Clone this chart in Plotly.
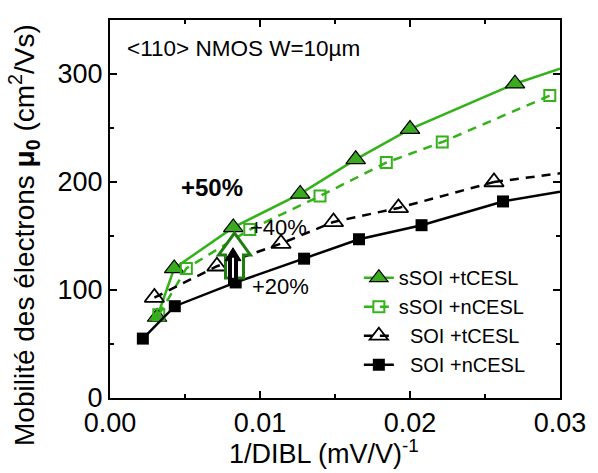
import plotly.graph_objects as go

# ---- data ----
x_ssoi_t = [0.00314, 0.00428, 0.00822, 0.01268, 0.01638, 0.0200, 0.0270]
y_ssoi_t = [75, 120, 158, 189, 221, 249, 291]
ext_ssoi_t_x = [0.0270, 0.0300]
ext_ssoi_t_y = [291, 305]

x_ssoi_n = [0.00325, 0.00509, 0.00932, 0.0140, 0.01842, 0.02215, 0.02932]
y_ssoi_n = [77, 120, 156, 187, 218, 237, 280]

x_soi_t = [0.00296, 0.00713, 0.0114, 0.0149, 0.01923, 0.0256]
y_soi_t = [93, 122, 143, 163, 176, 200]
ext_soi_t_x = [0.0256, 0.0300]
ext_soi_t_y = [200, 208]

x_soi_n = [0.00219, 0.00432, 0.00838, 0.01294, 0.0166, 0.02077, 0.0262]
y_soi_n = [55, 85, 107, 129, 147, 160, 182]
ext_soi_n_x = [0.0262, 0.0300]
ext_soi_n_y = [182, 191]

x_ticks = [0.00, 0.01, 0.02, 0.03]
y_ticks = [0, 100, 200, 300]

GREEN = "#33b21a"
GREEN_FILL = "#3aab1e"
DARK_GREEN = "#1f7d10"
FONT = "Liberation Sans, Arial, sans-serif"

fig = go.Figure()

# extension lines (no legend)
fig.add_trace(go.Scatter(x=ext_ssoi_t_x, y=ext_ssoi_t_y, mode="lines",
                         line=dict(color=GREEN, width=2.5), showlegend=False, hoverinfo="skip"))
fig.add_trace(go.Scatter(x=ext_soi_t_x, y=ext_soi_t_y, mode="lines",
                         line=dict(color="black", width=2.5, dash="9px,7px"), showlegend=False, hoverinfo="skip"))
fig.add_trace(go.Scatter(x=ext_soi_n_x, y=ext_soi_n_y, mode="lines",
                         line=dict(color="black", width=2.5), showlegend=False, hoverinfo="skip"))

fig.add_trace(go.Scatter(
    x=x_ssoi_t, y=y_ssoi_t, mode="lines+markers", name="sSOI +tCESL",
    line=dict(color=GREEN, width=2.5),
    marker=dict(symbol="triangle-up", size=17, color=GREEN_FILL, line=dict(color="black", width=1.2))))
fig.add_trace(go.Scatter(
    x=x_ssoi_n, y=y_ssoi_n, mode="lines+markers", name="sSOI +nCESL",
    line=dict(color=GREEN, width=2.5, dash="9px,7px"),
    marker=dict(symbol="square-open", size=11, color=GREEN, line=dict(color=GREEN, width=2))))
fig.add_trace(go.Scatter(
    x=x_soi_t, y=y_soi_t, mode="lines+markers", name="  SOI +tCESL",
    line=dict(color="black", width=2.5, dash="9px,7px"),
    marker=dict(symbol="triangle-up-open", size=17, color="black", line=dict(color="black", width=1.8))))
fig.add_trace(go.Scatter(
    x=x_soi_n, y=y_soi_n, mode="lines+markers", name="  SOI +nCESL",
    line=dict(color="black", width=2.5),
    marker=dict(symbol="square", size=12, color="black")))

# arrows (pixel-sized paths anchored at data points)
green_arrow = "M -9 0 L 9 0 L 9 23 L 16 23 L 0 45 L -16 23 L -9 23 Z"
black_arrow = "M -4.5 0 L 4.5 0 L 4.5 25 L 8 25 L 0 38 L -8 25 L -4.5 25 Z"
white_line = "M 0 8 L 0 28"
fig.add_shape(type="path", xref="x", yref="y", xsizemode="pixel", ysizemode="pixel",
              xanchor=0.0083, yanchor=111, path=green_arrow,
              line=dict(color=DARK_GREEN, width=3), fillcolor="white", layer="above")
fig.add_shape(type="path", xref="x", yref="y", xsizemode="pixel", ysizemode="pixel",
              xanchor=0.0082, yanchor=104, path=black_arrow,
              line=dict(color="black", width=1), fillcolor="black", layer="above")
fig.add_shape(type="path", xref="x", yref="y", xsizemode="pixel", ysizemode="pixel",
              xanchor=0.0082, yanchor=104, path=white_line,
              line=dict(color="white", width=2), layer="above")

anns = [
    dict(text="&lt;110&gt; NMOS W=10µm", x=0.001, y=324, size=22.5),
    dict(text="<b>+50%</b>", x=0.0046, y=195, size=24),
    dict(text="+40%", x=0.0092, y=158, size=22),
    dict(text="+20%", x=0.0093, y=103, size=22),
]
for a in anns:
    fig.add_annotation(text=a["text"], x=a["x"], y=a["y"], xref="x", yref="y",
                       xanchor="left", yanchor="middle", showarrow=False,
                       font=dict(family=FONT, size=a["size"], color="black"))

# axis titles as annotations (positioned like the reference)
fig.add_annotation(text="1/DIBL (mV/V)<sup>-1</sup>", xref="paper", yref="paper",
                   x=0.475, y=-0.143, xanchor="center", yanchor="middle", showarrow=False,
                   font=dict(family=FONT, size=27, color="black"))
fig.add_annotation(text="Mobilité des électrons <b>μ<sub>0</sub></b> (cm<sup>2</sup>/Vs)",
                   xref="paper", yref="paper", x=-0.19, y=0.43, textangle=-90,
                   xanchor="center", yanchor="middle", showarrow=False,
                   font=dict(family=FONT, size=28, color="black"))

axis_common = dict(
    showline=True, linecolor="black", linewidth=2, mirror="allticks",
    ticks="inside", ticklen=7, tickwidth=1.5, tickcolor="black",
    showgrid=False, zeroline=False,
    tickfont=dict(family=FONT, size=27, color="black"),
)

fig.update_xaxes(range=[0, 0.03], tickvals=x_ticks, tickformat=".2f", ticklabelstandoff=0,
                 minor=dict(dtick=0.005, ticks="inside", ticklen=4, tickcolor="black", tickwidth=1.5),
                 **axis_common)
fig.update_yaxes(range=[0, 350], tickvals=y_ticks,
                 minor=dict(dtick=50, ticks="inside", ticklen=4, tickcolor="black", tickwidth=1.5),
                 **axis_common)

fig.update_layout(
    width=598, height=473,
    margin=dict(l=110, r=32, t=20, b=75),
    plot_bgcolor="white", paper_bgcolor="white",
    font=dict(family=FONT, color="black"),
    legend=dict(x=0.553, y=0.37, xanchor="left", yanchor="top",
                bgcolor="rgba(0,0,0,0)", font=dict(family=FONT, size=20, color="black"),
                tracegroupgap=0, itemwidth=30),
)

fig.write_html("out.html", config={"displayModeBar": False},
               post_script="document.body.style.margin='0';")
